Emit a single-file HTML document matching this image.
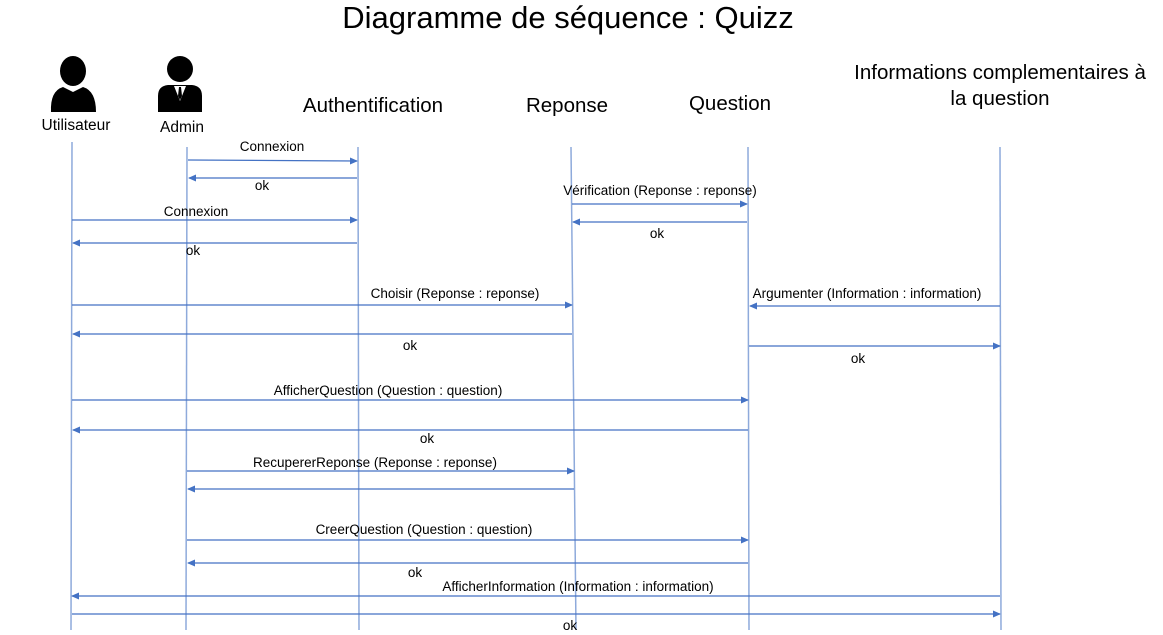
<!DOCTYPE html>
<html><head><meta charset="utf-8"><style>
html,body{margin:0;padding:0;background:#fff;}
svg{display:block;font-family:"Liberation Sans",sans-serif;}
</style></head><body>
<svg width="1163" height="635" viewBox="0 0 1163 635" xmlns="http://www.w3.org/2000/svg">
<defs>
<marker id="a" markerWidth="8" markerHeight="8" refX="7" refY="4" orient="auto" markerUnits="userSpaceOnUse">
<path d="M0,0.5 L8,4 L0,7.5 Z" fill="#4472c4"/></marker>
</defs>
<text x="568" y="28" font-size="31" text-anchor="middle" fill="#000">Diagramme de séquence : Quizz</text>
<g fill="#000">
<ellipse cx="73" cy="71" rx="13" ry="15"/>
<path d="M51,112 Q50,91 63,87 L73,92 L83,87 Q96,91 96,112 Z"/>
<circle cx="180" cy="69" r="13"/>
<path d="M158,112 L158,96 Q158,86 168,85 L192,85 Q202,86 202,96 L202,112 Z"/>
</g>
<path d="M174,86 L180,101 L186,86 Z" fill="#fff"/>
<path d="M179,87 L181,87 L182,96 L180,100 L178,96 Z" fill="#000"/>
<g font-size="15.5" text-anchor="middle" fill="#000">
<text x="76" y="130">Utilisateur</text>
<text x="182" y="132">Admin</text>
</g>
<g font-size="20.5" text-anchor="middle" fill="#000">
<text x="373" y="112">Authentification</text>
<text x="567" y="112">Reponse</text>
<text x="730" y="110">Question</text>
<text x="1000" y="79">Informations complementaires à</text>
<text x="1000" y="105">la question</text>
</g>
<g stroke="#8eaadb" stroke-width="1.5">
<line x1="72" y1="142" x2="71" y2="630"/>
<line x1="187" y1="147" x2="186" y2="630"/>
<line x1="358" y1="147" x2="359" y2="630"/>
<line x1="571" y1="147" x2="576" y2="630"/>
<line x1="748" y1="147" x2="749" y2="630"/>
<line x1="1000" y1="147" x2="1001" y2="630"/>
</g>
<g stroke="#4472c4" stroke-width="1.2" marker-end="url(#a)">
<line x1="188" y1="160" x2="357" y2="161"/>
<line x1="357" y1="178" x2="189" y2="178"/>
<line x1="572" y1="204" x2="747" y2="204"/>
<line x1="747" y1="222" x2="573" y2="222"/>
<line x1="72" y1="220" x2="357" y2="220"/>
<line x1="357" y1="243" x2="73" y2="243"/>
<line x1="72" y1="305" x2="572" y2="305"/>
<line x1="1000" y1="306" x2="750" y2="306"/>
<line x1="572" y1="334" x2="73" y2="334"/>
<line x1="749" y1="346" x2="1000" y2="346"/>
<line x1="72" y1="400" x2="748" y2="400"/>
<line x1="748" y1="430" x2="73" y2="430"/>
<line x1="187" y1="471" x2="574" y2="471"/>
<line x1="574" y1="489" x2="188" y2="489"/>
<line x1="187" y1="540" x2="748" y2="540"/>
<line x1="748" y1="563" x2="188" y2="563"/>
<line x1="1000" y1="596" x2="72" y2="596"/>
<line x1="72" y1="614" x2="1000" y2="614"/>
</g>
<g font-size="13.5" text-anchor="middle" fill="#000">
<text x="272" y="151">Connexion</text>
<text x="262" y="190">ok</text>
<text x="660" y="195">Vérification (Reponse : reponse)</text>
<text x="657" y="238">ok</text>
<text x="196" y="216">Connexion</text>
<text x="193" y="255">ok</text>
<text x="455" y="298">Choisir (Reponse : reponse)</text>
<text x="867" y="298">Argumenter (Information : information)</text>
<text x="410" y="350">ok</text>
<text x="858" y="363">ok</text>
<text x="388" y="395">AfficherQuestion (Question : question)</text>
<text x="427" y="443">ok</text>
<text x="375" y="467">RecupererReponse (Reponse : reponse)</text>
<text x="424" y="534">CreerQuestion (Question : question)</text>
<text x="415" y="577">ok</text>
<text x="578" y="591">AfficherInformation (Information : information)</text>
<text x="570" y="630">ok</text>
</g>
</svg>
</body></html>
